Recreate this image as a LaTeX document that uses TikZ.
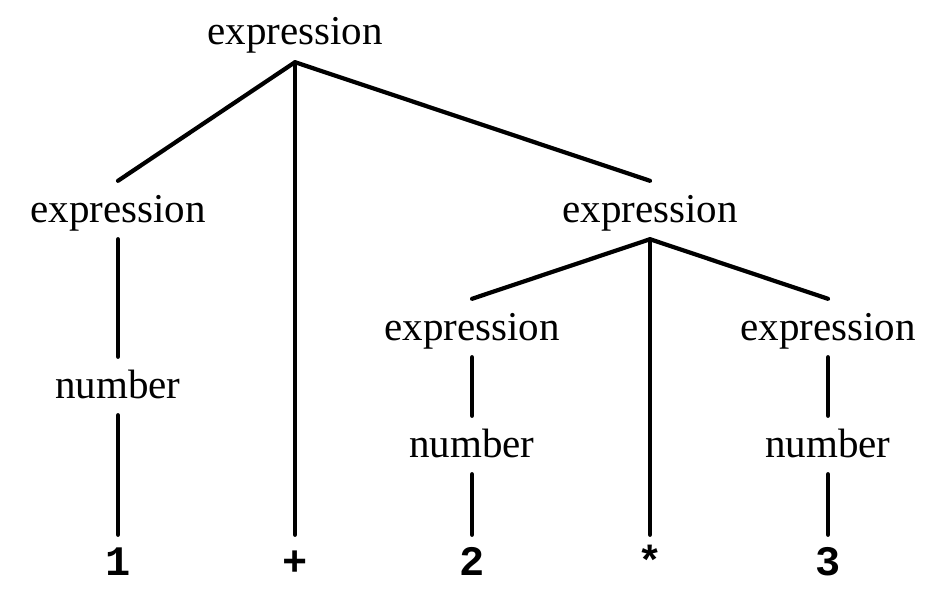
\documentclass[tikz,border=0pt]{standalone}
\usepackage{fontspec}
\setmainfont{Liberation Serif}
\setmonofont{Liberation Mono}
\begin{document}
\begin{tikzpicture}[x=1pt,y=-1pt,
  lbl/.style={anchor=base,inner sep=0pt,text height=41pt,text depth=17pt,
    font=\fontsize{41}{49}\selectfont},
  leaf/.style={anchor=base,inner sep=0pt,text height=40pt,text depth=0pt,
    font=\fontsize{42}{50}\selectfont\ttfamily\bfseries},
  edge/.style={line width=4.2pt,line cap=round,line join=round}]
\useasboundingbox[fill=white] (0,0) rectangle (944,594);
% nodes
\node[lbl] (root) at (295,45) {expression};
\node[lbl] (eL) at (118,222) {expression};
\node[lbl] (eR) at (650,222) {expression};
\node[lbl] (nL) at (118,398) {number};
\node[lbl] (eRL) at (472,340) {expression};
\node[lbl] (eRR) at (828,340) {expression};
\node[lbl] (nRL) at (472,457) {number};
\node[lbl] (nRR) at (828,457) {number};
\node[leaf] (l1) at (118,575) {1};
\node[leaf] (lp) at (295,575) {+};
\node[leaf] (l2) at (472,575) {2};
\node[leaf] (ls) at (650,575) {*};
\node[leaf] (l3) at (828,575) {3};
% edges
\draw[edge] (eL.north) -- (root.south) -- (eR.north);
\draw[edge] (root.south) -- (lp.north);
\draw[edge] (eL.south) -- (nL.north);
\draw[edge] (nL.south) -- (l1.north);
\draw[edge] (eRL.north) -- (eR.south) -- (eRR.north);
\draw[edge] (eR.south) -- (ls.north);
\draw[edge] (eRL.south) -- (nRL.north);
\draw[edge] (nRL.south) -- (l2.north);
\draw[edge] (eRR.south) -- (nRR.north);
\draw[edge] (nRR.south) -- (l3.north);
\end{tikzpicture}
\end{document}
